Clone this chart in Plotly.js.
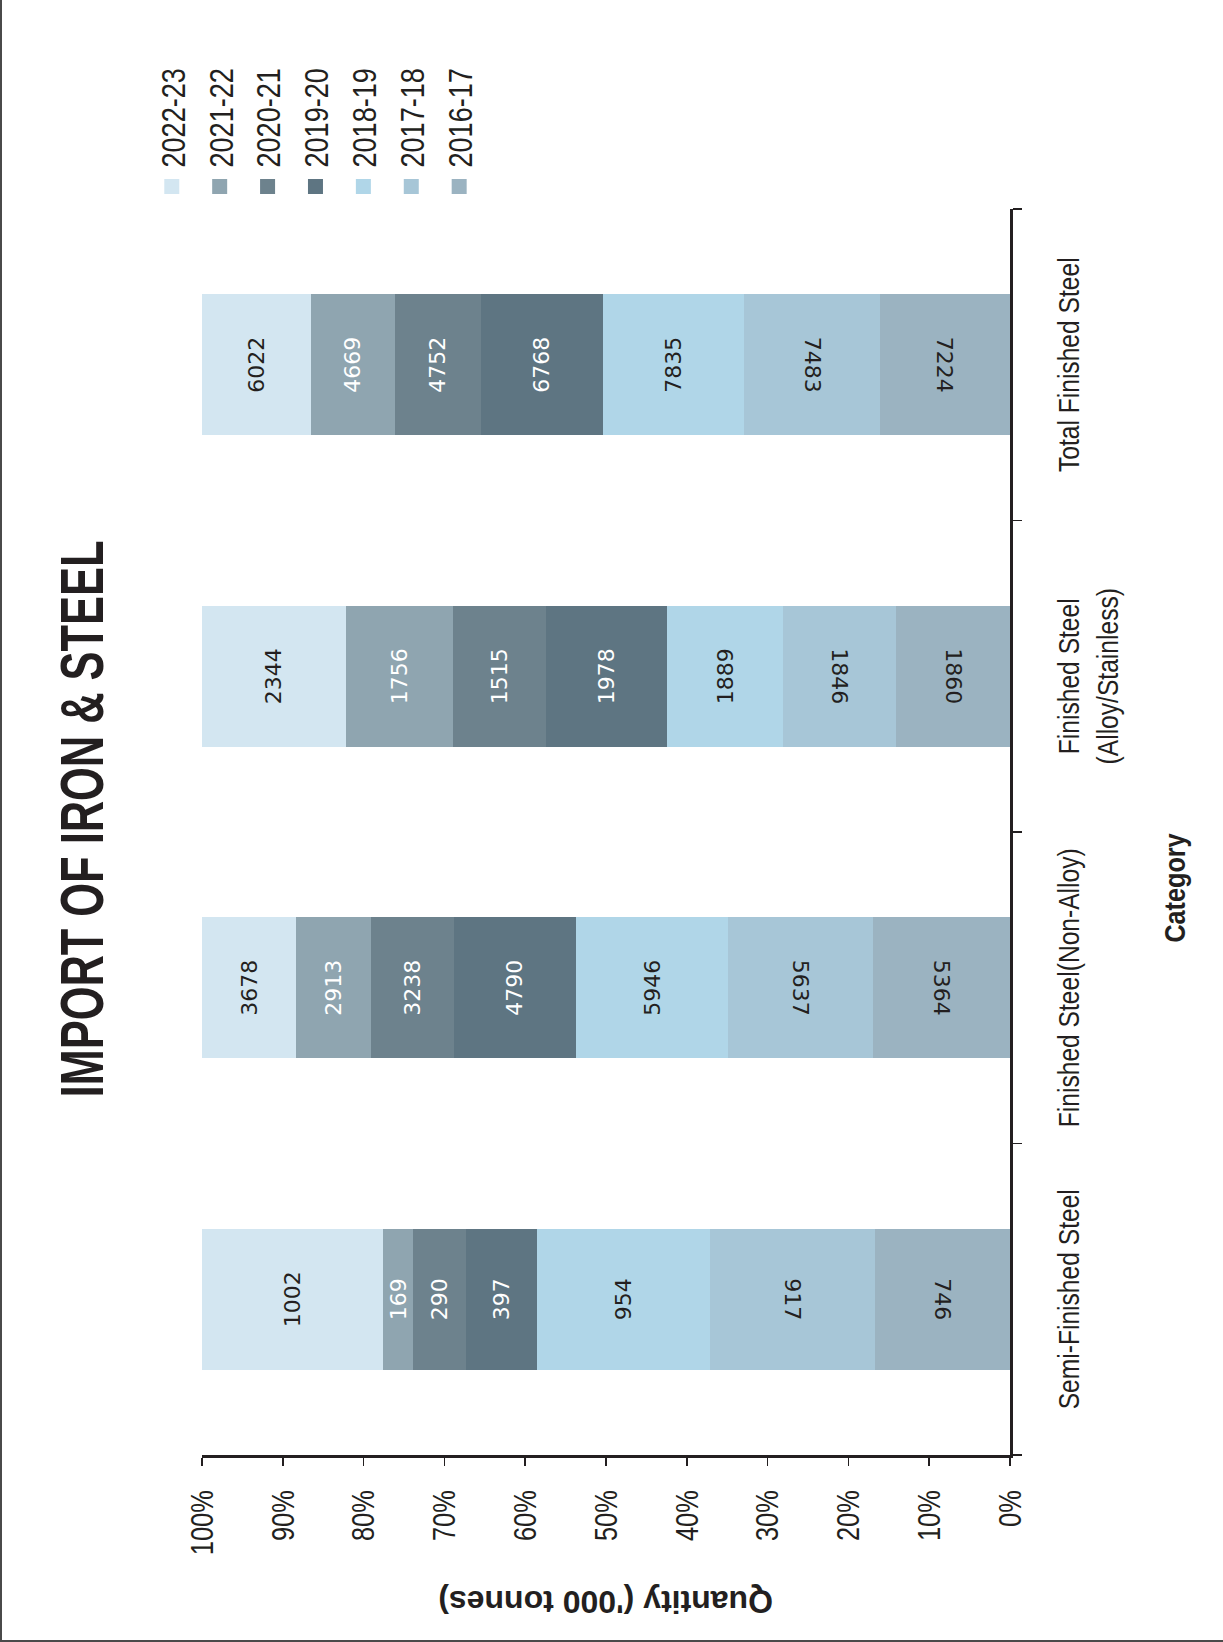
<!DOCTYPE html>
<html>
<head>
<meta charset="utf-8">
<script src="https://cdn.plot.ly/plotly-3.0.1.min.js"></script>
<style>
html,body{margin:0;padding:0;background:#fff;width:1223px;height:1642px;overflow:hidden;}
#frame{position:absolute;left:0;top:0;width:1223px;height:1642px;box-sizing:border-box;border-left:2px solid #4a4a4a;border-bottom:2px solid #4a4a4a;pointer-events:none;z-index:2;}
#chart{position:absolute;left:0;top:0;width:1642px;height:1223px;transform-origin:0 0;transform:translateY(1642px) rotate(-90deg);}
</style>
</head>
<body>
<div id="frame"></div>
<div id="chart"></div>
<script>
// ---- data ----
const categories = ["Semi-Finished Steel", "Finished Steel(Non-Alloy)", "Finished Steel<br>(Alloy/Stainless)", "Total Finished Steel"];
const s2016_17 = [746, 5364, 1860, 7224];
const s2017_18 = [917, 5637, 1846, 7483];
const s2018_19 = [954, 5946, 1889, 7835];
const s2019_20 = [397, 4790, 1978, 6768];
const s2020_21 = [290, 3238, 1515, 4752];
const s2021_22 = [169, 2913, 1756, 4669];
const s2022_23 = [1002, 3678, 2344, 6022];
const seriesNames = ["2016-17", "2017-18", "2018-19", "2019-20", "2020-21", "2021-22", "2022-23"];
const seriesValues = [s2016_17, s2017_18, s2018_19, s2019_20, s2020_21, s2021_22, s2022_23];
const valueTicks = [0, 10, 20, 30, 40, 50, 60, 70, 80, 90, 100];
const valueTickLabels = ["0%", "10%", "20%", "30%", "40%", "50%", "60%", "70%", "80%", "90%", "100%"];

// ---- styles ----
const colors = ["#9bb3c1", "#a7c6d7", "#b0d6e8", "#5e7582", "#6d828d", "#8fa5b0", "#d3e6f1"];
const labelColors = ["#231f20", "#231f20", "#231f20", "#ffffff", "#ffffff", "#ffffff", "#231f20"];
const labelAngles = [180, 180, 0, 0, 0, 0, 0];
const sans = "Liberation Sans, Arial, sans-serif";
const ink = "#231f20";

const traces = seriesNames.map((name, i) => ({
  type: "bar",
  name: name,
  legendgroup: name,
  legendrank: seriesNames.length - i,
  x: categories,
  y: seriesValues[i],
  text: seriesValues[i].map(v => String(v)),
  textposition: "inside",
  insidetextanchor: "middle",
  textangle: labelAngles[i],
  constraintext: "none",
  textfont: {family: "DejaVu Sans, sans-serif", size: 22, color: labelColors[i]},
  marker: {color: colors[i], line: {width: 0}},
  hoverinfo: "skip"
}));

const layout = {
  width: 1642,
  height: 1223,
  margin: {l: 187, r: 209, t: 202, b: 213, autoexpand: false},
  paper_bgcolor: "#ffffff",
  plot_bgcolor: "#ffffff",
  barmode: "stack",
  barnorm: "percent",
  bargap: 0.547,
  title: {
    text: "IMPORT OF IRON &amp; STEEL",
    font: {family: sans, size: 62, weight: 700, color: ink},
    xref: "container", x: 823 / 1642, xanchor: "center",
    yref: "container", y: 1 - 81 / 1223, yanchor: "middle"
  },
  showlegend: true,
  legend: {
    orientation: "v",
    traceorder: "grouped",
    tracegroupgap: 2,
    x: 1.002, xanchor: "left",
    y: 1.072, yanchor: "top",
    font: {family: sans, size: 33, color: ink},
    bgcolor: "rgba(0,0,0,0)"
  },
  xaxis: {
    type: "category",
    tickson: "boundaries",
    tickangle: 0,
    ticks: "outside",
    ticklen: 9,
    tickwidth: 1.5,
    tickcolor: ink,
    showline: true,
    linecolor: ink,
    linewidth: 3,
    showgrid: false,
    zeroline: false,
    automargin: false,
    ticklabelstandoff: 30,
    tickfont: {family: sans, size: 30, color: ink}
  },
  yaxis: {
    range: [0, 100],
    tickmode: "array",
    tickvals: valueTicks,
    ticktext: valueTickLabels,
    tickangle: 0,
    ticks: "outside",
    ticklen: 8,
    tickwidth: 1.5,
    tickcolor: ink,
    showline: true,
    linecolor: ink,
    linewidth: 3,
    showgrid: false,
    zeroline: false,
    automargin: false,
    ticklabelstandoff: 18,
    tickfont: {family: sans, size: 31, color: ink}
  },
  annotations: [
    {
      text: "<b>Quantity ('000 tonnes)</b>",
      textangle: -90,
      xref: "paper", yref: "paper",
      x: (40 - 187) / 1246, y: 0.5,
      xanchor: "center", yanchor: "middle",
      showarrow: false,
      font: {family: sans, size: 32, color: ink}
    },
    {
      text: "<b>Category</b>",
      xref: "paper", yref: "paper",
      x: (754 - 187) / 1246, y: -(1174 - 1010) / 808,
      xanchor: "center", yanchor: "middle",
      showarrow: false,
      font: {family: sans, size: 30, color: ink}
    }
  ]
};

// Narrow the glyphs of the condensed-looking texts (keeps them as real text)
function condense(nodes, f) {
  nodes.forEach(t => {
    const lines = t.querySelectorAll("tspan.line");
    const targets = lines.length ? Array.from(lines) : [t];
    targets.forEach(el => {
      const len = el.getComputedTextLength();
      if (len > 0) {
        el.setAttribute("textLength", (len * f).toFixed(2));
        el.setAttribute("lengthAdjust", "spacingAndGlyphs");
      }
    });
  });
}

Plotly.newPlot("chart", traces, layout, {staticPlot: true, displayModeBar: false}).then(() => {
  const root = document.getElementById("chart");
  condense(root.querySelectorAll(".gtitle"), 0.70);
  condense(root.querySelectorAll(".xtick text, .ytick text"), 0.82);
  condense(root.querySelectorAll(".legendtext"), 0.82);
  condense(root.querySelectorAll('.annotation[data-index="1"] text'), 0.84);
  // legend: slightly larger swatches, text a little closer to them
  root.querySelectorAll(".legendpoints path").forEach(p => p.setAttribute("d", "M7.5,7.5H-7.5V-7.5H7.5Z"));
  root.querySelectorAll(".legendtext").forEach(t => {
    const x = parseFloat(t.getAttribute("x") || "40");
    t.setAttribute("x", (x - 1).toFixed(1));
  });
});
</script>
</body>
</html>
